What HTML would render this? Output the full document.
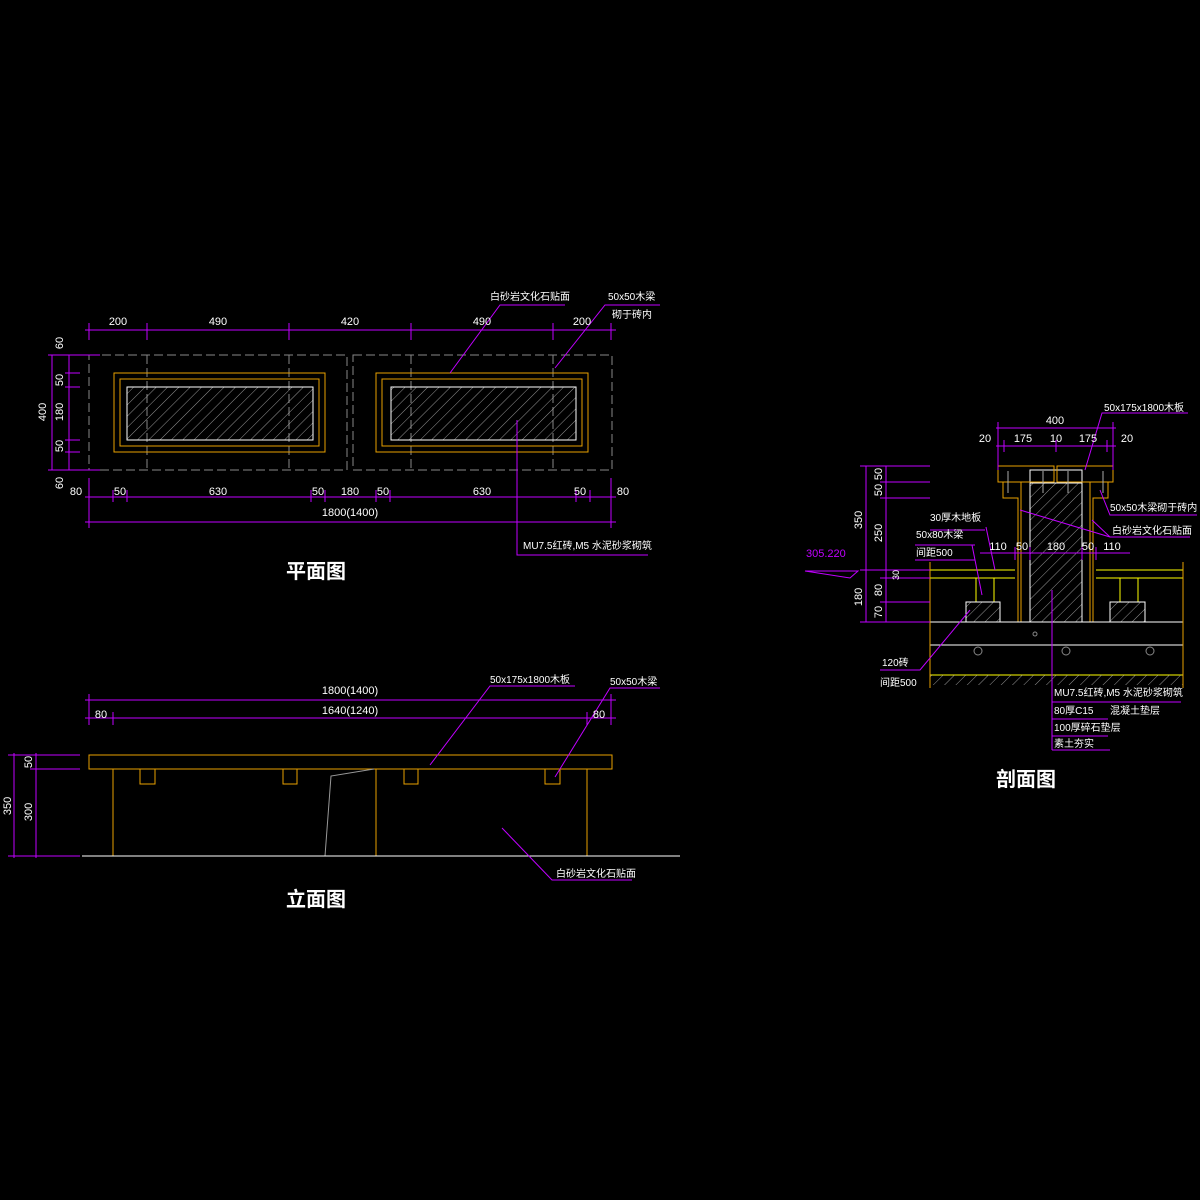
<!DOCTYPE html>
<html><head><meta charset="utf-8"><style>body{margin:0;background:#000}svg{display:block}</style></head><body>
<svg width="1200" height="1200" viewBox="0 0 1200 1200" xmlns="http://www.w3.org/2000/svg" font-family="Liberation Sans, Noto Sans CJK SC, sans-serif">
<defs>
<pattern id="h" width="8" height="8" patternUnits="userSpaceOnUse" patternTransform="rotate(45)"><line x1="0" y1="0" x2="0" y2="8" stroke="#bbb" stroke-width="0.8"/></pattern>
</defs>
<rect width="1200" height="1200" fill="#000"/>
<g fill="#fff" font-size="11">
<!-- PLAN -->
<g stroke="#888" stroke-dasharray="9,4" fill="none">
<rect x="89" y="355" width="258" height="115"/><rect x="353" y="355" width="259" height="115"/>
<line x1="147" y1="355" x2="147" y2="470"/><line x1="289" y1="355" x2="289" y2="470"/><line x1="411" y1="355" x2="411" y2="470"/><line x1="553" y1="355" x2="553" y2="470"/>
</g>
<g stroke="#e8a000" fill="none"><rect x="114" y="373" width="211" height="79"/><rect x="120" y="379" width="199" height="67"/><rect x="376" y="373" width="212" height="79"/><rect x="382" y="379" width="200" height="67"/></g>
<rect x="127" y="387" width="186" height="53" fill="url(#h)" stroke="#fff"/>
<rect x="391" y="387" width="185" height="53" fill="url(#h)" stroke="#fff"/>
<g stroke="#c000ff" fill="none">
<line x1="85" y1="330" x2="616" y2="330"/>
<path d="M89 323V340M147 323V340M289 323V340M411 323V340M553 323V340M611 323V340"/>
<line x1="85" y1="497" x2="616" y2="497"/><line x1="85" y1="522" x2="616" y2="522"/>
<path d="M89 478V528M113 490V502M127 490V502M311 490V502M325 490V502M376 490V502M390 490V502M576 490V502M590 490V502M611 478V528"/>
<line x1="52" y1="355" x2="52" y2="470"/><line x1="69" y1="355" x2="69" y2="470"/>
<path d="M48 355H100M65 373H80M65 387H80M65 440H80M65 452H80M48 470H100"/>
<path d="M450 373L500 305H565"/><path d="M555 368L605 305H660"/>
<path d="M517 420V555H648"/>
</g>
<g text-anchor="middle"><text x="118" y="325">200</text><text x="218" y="325">490</text><text x="350" y="325">420</text><text x="482" y="325">490</text><text x="582" y="325">200</text>
<text x="76" y="495">80</text><text x="120" y="495">50</text><text x="218" y="495">630</text><text x="318" y="495">50</text><text x="350" y="495">180</text><text x="383" y="495">50</text><text x="482" y="495">630</text><text x="580" y="495">50</text><text x="623" y="495">80</text>
<text x="350" y="516">1800(1400)</text></g>
<g text-anchor="middle"><text transform="translate(63,343) rotate(-90)">60</text><text transform="translate(46,412) rotate(-90)">400</text><text transform="translate(63,380) rotate(-90)">50</text><text transform="translate(63,412) rotate(-90)">180</text><text transform="translate(63,446) rotate(-90)">50</text><text transform="translate(63,483) rotate(-90)">60</text></g>
<text x="490" y="300" font-size="10">白砂岩文化石贴面</text><text x="608" y="300" font-size="10">50x50木梁</text><text x="612" y="318" font-size="10">砌于砖内</text>
<text x="523" y="549" font-size="10">MU7.5红砖,M5 水泥砂浆砌筑</text>
<text x="316" y="578" font-size="20" font-weight="bold" text-anchor="middle">平面图</text>

<!-- ELEVATION -->
<rect x="89" y="755" width="523" height="14" fill="none" stroke="#e8a000"/>
<g stroke="#e8a000" fill="none"><path d="M113 769V856M376 769V856M587 769V856"/><path d="M140 769V784H155V769M283 769V784H297V769M404 769V784H418V769M545 769V784H560V769"/></g>
<path d="M325 856L331 776L374 769" stroke="#999" fill="none"/>
<line x1="82" y1="856" x2="680" y2="856" stroke="#fff"/>
<g stroke="#c000ff" fill="none"><line x1="85" y1="700" x2="616" y2="700"/><line x1="85" y1="718" x2="616" y2="718"/>
<path d="M89 694V725M113 712V725M587 712V725M611 694V725"/>
<line x1="14" y1="753" x2="14" y2="858"/><line x1="36" y1="753" x2="36" y2="858"/><path d="M8 755H80M30 769H80M8 856H80"/>
<path d="M430 765L490 686H575"/><path d="M555 777L610 688H660"/><path d="M502 828L552 880H632"/></g>
<g text-anchor="middle"><text x="350" y="694">1800(1400)</text><text x="350" y="714">1640(1240)</text><text x="101" y="718">80</text><text x="599" y="718">80</text>
<text transform="translate(11,806) rotate(-90)">350</text><text transform="translate(32,812) rotate(-90)">300</text><text transform="translate(32,762) rotate(-90)">50</text></g>
<text x="490" y="683" font-size="10">50x175x1800木板</text><text x="610" y="685" font-size="10">50x50木梁</text><text x="556" y="877" font-size="10">白砂岩文化石贴面</text>
<text x="316" y="906" font-size="20" font-weight="bold" text-anchor="middle">立面图</text>

<!-- SECTION -->
<g fill="none">
<rect x="1030" y="483" width="52" height="139" fill="url(#h)" stroke="#fff"/>
<path d="M1030 483V470H1082V483" stroke="#fff"/>
<path d="M998 466H1054V482H998ZM1057 466H1113V482H1057ZM1003 482V498H1018V622M1108 482V498H1093V622M1021 482V622M1090 482V622" stroke="#e8a000"/>
<g stroke="#aaa"><path d="M1008 471V493M1043 471V493M1068 471V493M1103 471V493"/></g>
<path d="M930 570H1015M1096 570H1183M930 578H1015M1096 578H1183" stroke="#ff0"/>
<path d="M976 578V602H994V578M1120 578V602H1138V578" stroke="#ff0"/>
<rect x="966" y="602" width="34" height="20" fill="url(#h)" stroke="#fff"/><rect x="1110" y="602" width="35" height="20" fill="url(#h)" stroke="#fff"/>
<path d="M930 622H1183M930 645H1183" stroke="#fff"/>
<path d="M930 675H1183" stroke="#ff0"/><rect x="930" y="675" width="253" height="10" fill="url(#h)"/>
<path d="M930 562V688M1183 562V688" stroke="#e8a000"/>
<g stroke="#888"><circle cx="978" cy="651" r="4"/><circle cx="1066" cy="651" r="4"/><circle cx="1150" cy="651" r="4"/><circle cx="1035" cy="634" r="2"/></g>
</g>
<g stroke="#c000ff" fill="none">
<line x1="996" y1="446" x2="1116" y2="446"/><line x1="996" y1="428" x2="1116" y2="428"/><path d="M998 422V470M1004 440V452M1056 440V452M1107 440V452M1113 422V470"/>
<line x1="866" y1="466" x2="866" y2="622"/><line x1="886" y1="466" x2="886" y2="622"/>
<path d="M860 466H930M880 482H930M880 498H930M860 570H930M880 578H930M880 602H930M860 622H930"/>
<line x1="980" y1="553" x2="1130" y2="553"/><path d="M1015 547V560M1030 547V560M1082 547V560M1096 547V560"/>
<path d="M805 571H858L850 578Z"/>
<path d="M1085 470L1102 413H1188"/><path d="M1100 490L1110 515H1197"/><path d="M1020 510L1110 537M1092 520L1110 537H1190"/>
<path d="M986 527L995 570M972 545L982 595"/><path d="M930 530H985M915 545H975M915 560H975"/>
<path d="M970 610L920 670H880"/>
<path d="M1052 590V750M1052 702H1181M1052 719H1108M1052 736H1108M1052 750H1110"/>
</g>
<g text-anchor="middle"><text x="1055" y="424">400</text><text x="985" y="442">20</text><text x="1023" y="442">175</text><text x="1056" y="442">10</text><text x="1088" y="442">175</text><text x="1127" y="442">20</text>
<text x="998" y="550">110</text><text x="1022" y="550">50</text><text x="1056" y="550">180</text><text x="1088" y="550">50</text><text x="1112" y="550">110</text>
<text transform="translate(862,520) rotate(-90)">350</text><text transform="translate(882,474) rotate(-90)">50</text><text transform="translate(882,490) rotate(-90)">50</text><text transform="translate(882,533) rotate(-90)">250</text><text transform="translate(899,575) rotate(-90)" font-size="9">30</text><text transform="translate(882,590) rotate(-90)">80</text><text transform="translate(862,597) rotate(-90)">180</text><text transform="translate(882,612) rotate(-90)">70</text></g>
<text x="806" y="557" fill="#c000ff" font-size="11">305.220</text>
<g font-size="10"><text x="1104" y="411">50x175x1800木板</text><text x="1110" y="511">50x50木梁砌于砖内</text><text x="1112" y="534">白砂岩文化石贴面</text>
<text x="930" y="521">30厚木地板</text><text x="916" y="538">50x80木梁</text><text x="916" y="556">间距500</text><text x="882" y="666">120砖</text><text x="880" y="686">间距500</text>
<text x="1054" y="696">MU7.5红砖,M5 水泥砂浆砌筑</text><text x="1054" y="714">80厚C15</text><text x="1110" y="714">混凝土垫层</text><text x="1054" y="731">100厚碎石垫层</text><text x="1054" y="747">素土夯实</text></g>
<text x="1026" y="786" font-size="20" font-weight="bold" text-anchor="middle">剖面图</text>
</g>
</svg>
</body></html>
